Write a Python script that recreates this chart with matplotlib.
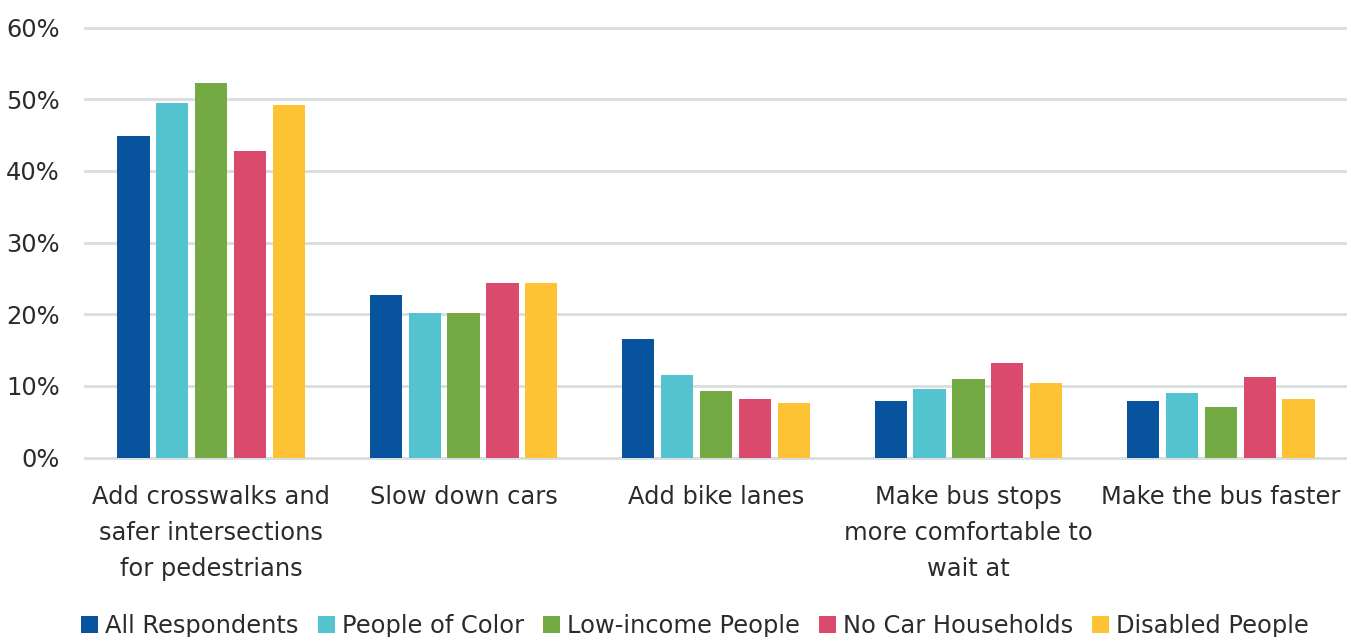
import matplotlib.pyplot as plt
import numpy as np
from matplotlib.ticker import PercentFormatter

categories = [
    "Add crosswalks and\nsafer intersections\nfor pedestrians",
    "Slow down cars",
    "Add bike lanes",
    "Make bus stops\nmore comfortable to\nwait at",
    "Make the bus faster",
]
series_names = ["All Respondents", "People of Color", "Low-income People",
                "No Car Households", "Disabled People"]
all_respondents = [44.8, 22.7, 16.5, 7.9, 7.9]
people_of_color = [49.5, 20.2, 11.5, 9.6, 9.0]
low_income = [52.3, 20.2, 9.3, 11.0, 7.0]
no_car = [42.8, 24.4, 8.2, 13.2, 11.2]
disabled = [49.2, 24.4, 7.6, 10.4, 8.2]
y_ticks = [0, 10, 20, 30, 40, 50, 60]

series = [all_respondents, people_of_color, low_income, no_car, disabled]
colors = ["#08539E", "#53C4CF", "#73AA43", "#D94A6C", "#FEC334"]

plt.rcParams["font.family"] = ["DejaVu Sans"]
FS = 17.4

fig = plt.figure(figsize=(13.47, 6.37), dpi=100)
ax = fig.add_axes([85 / 1347, 179.5 / 637, 1 - 85 / 1347, 430 / 637])

x = np.arange(len(categories))
step = 0.154
width = 0.128
for i, (vals, name, col) in enumerate(zip(series, series_names, colors)):
    ax.bar(x + (i - 2) * step, vals, width=width, color=col, label=name,
           zorder=3)

ax.set_xlim(-0.5, len(categories) - 0.5)
ax.set_ylim(0, 60)
ax.set_yticks(y_ticks)
ax.yaxis.set_major_formatter(PercentFormatter(decimals=0))
ax.grid(axis="y", color="#D9DDDD", linewidth=2, zorder=0)
for gl in ax.get_ygridlines():
    gl.set_clip_on(False)
for s in ax.spines.values():
    s.set_visible(False)
ax.tick_params(axis="y", length=0, pad=18, labelsize=FS, labelcolor="#2B2B2B")
ax.tick_params(axis="x", length=0, pad=19.5, labelsize=FS, labelcolor="#2B2B2B")
ax.set_xticks(x)
ax.set_xticklabels(categories, linespacing=1.64)

fig.legend(loc="lower center", bbox_to_anchor=(0.516, -0.035), ncol=5,
           frameon=False, fontsize=FS, handlelength=0.7, handleheight=0.7,
           handletextpad=0.3, columnspacing=0.78, labelcolor="#2B2B2B")

fig.savefig("out.png", dpi=100, facecolor="white")
